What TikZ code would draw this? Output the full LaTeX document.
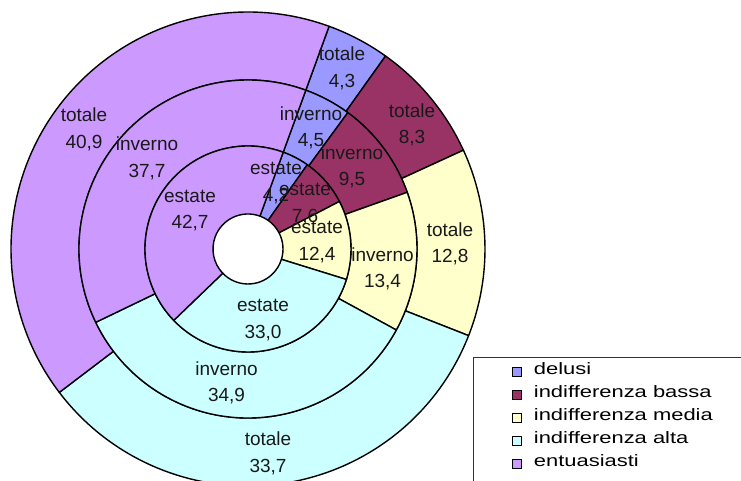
\documentclass[tikz,border=0pt]{standalone}
\usepackage{fontspec}
\setmainfont{Liberation Sans}
\newfontfamily\legendfont[FakeStretch=1.33]{Liberation Sans}
\usetikzlibrary{positioning}

\definecolor{delusi}{HTML}{9999FF}
\definecolor{bassa}{HTML}{993366}
\definecolor{media}{HTML}{FFFFCC}
\definecolor{alta}{HTML}{CCFFFF}
\definecolor{entus}{HTML}{CC99FF}

\begin{document}
\begin{tikzpicture}[x=1pt, y=1pt, node distance={23pt},
    slice/.style = {draw, line width=1.4pt, line join=round},
    lab/.style = {align=center, inner sep=0pt, text=black!90,
        font=\fontsize{19}{26.5}\selectfont},
    key/.style = {draw, line width=0.9pt, minimum size=8.5pt, inner sep=0pt},
    keytext/.style = {inner sep=0pt, font=\legendfont\fontsize{16.5}{20}\selectfont}]
    \useasboundingbox (0,0) rectangle (741,481);
    \clip (0,0) rectangle (741,481);

    % rings: estate (inner), inverno, totale (outer)
    \begin{scope}[shift={(248,232)}]
    \foreach \a/\b/\c in {70/54.52/delusi, 54.52/24.64/bassa, 24.64/-21.44/media,
            -21.44/-142.76/alta, -142.76/-290/entus}
        \draw[slice, fill=\c] (\a:169) -- (\a:237) arc[start angle=\a, end angle=\b, radius=237]
            -- (\b:169) arc[start angle=\b, end angle=\a, radius=169] -- cycle;
    \foreach \a/\b/\c in {70/53.8/delusi, 53.8/19.6/bassa, 19.6/-28.64/media,
            -28.64/-154.28/alta, -154.28/-290/entus}
        \draw[slice, fill=\c] (\a:103) -- (\a:169) arc[start angle=\a, end angle=\b, radius=169]
            -- (\b:103) arc[start angle=\b, end angle=\a, radius=103] -- cycle;
    \foreach \a/\b/\c in {70/54.865/delusi, 54.865/27.478/bassa, 27.478/-17.207/media,
            -17.207/-136.126/alta, -136.126/-290/entus}
        \draw[slice, fill=\c] (\a:35) -- (\a:103) arc[start angle=\a, end angle=\b, radius=103]
            -- (\b:35) arc[start angle=\b, end angle=\a, radius=35] -- cycle;
    \end{scope}

    % labels
    \node[lab] (tot-del) at (342,412.5) {totale\\4,3};
    \node[lab] (tot-bas) at (412,356) {totale\\8,3};
    \node[lab] (tot-med) at (450,237) {totale\\12,8};
    \node[lab] (tot-alt) at (268,27.5) {totale\\33,7};
    \node[lab] (tot-ent) at (84,351.5) {totale\\40,9};

    \node[lab] (inv-del) at (311,353) {inverno\\4,5};
    \node[lab] (inv-bas) at (352,314) {inverno\\9,5};
    \node[lab] (inv-med) at (382.5,212) {inverno\\13,4};
    \node[lab] (inv-alt) at (226.5,98) {inverno\\34,9};
    \node[lab] (inv-ent) at (147,322.5) {inverno\\37,7};

    \node[lab] (est-del) at (276,298) {estate\\4,2};
    \node[lab] (est-bas) at (305,277) {estate\\7,6};
    \node[lab] (est-med) at (317,239) {estate\\12,4};
    \node[lab] (est-alt) at (263,161) {estate\\33,0};
    \node[lab] (est-ent) at (190,270.5) {estate\\42,7};

    % legend
    \draw[line width=1pt, black!80] (473,-5) rectangle (746,123.5);
    \node[key, fill=delusi] (k1) at (517,109) {};
    \node[key, fill=bassa] (k2) [below of=k1] {};
    \node[key, fill=media] (k3) [below of=k2] {};
    \node[key, fill=alta] (k4) [below of=k3] {};
    \node[key, fill=entus] (k5) [below of=k4] {};
    \node[keytext] (t1) [right=12pt of k1, anchor=mid west] {delusi};
    \node[keytext] (t2) [right=12pt of k2, anchor=mid west] {indifferenza bassa};
    \node[keytext] (t3) [right=12pt of k3, anchor=mid west] {indifferenza media};
    \node[keytext] (t4) [right=12pt of k4, anchor=mid west] {indifferenza alta};
    \node[keytext] (t5) [right=12pt of k5, anchor=mid west] {entuasiasti};

    \end{tikzpicture}
\end{document}
